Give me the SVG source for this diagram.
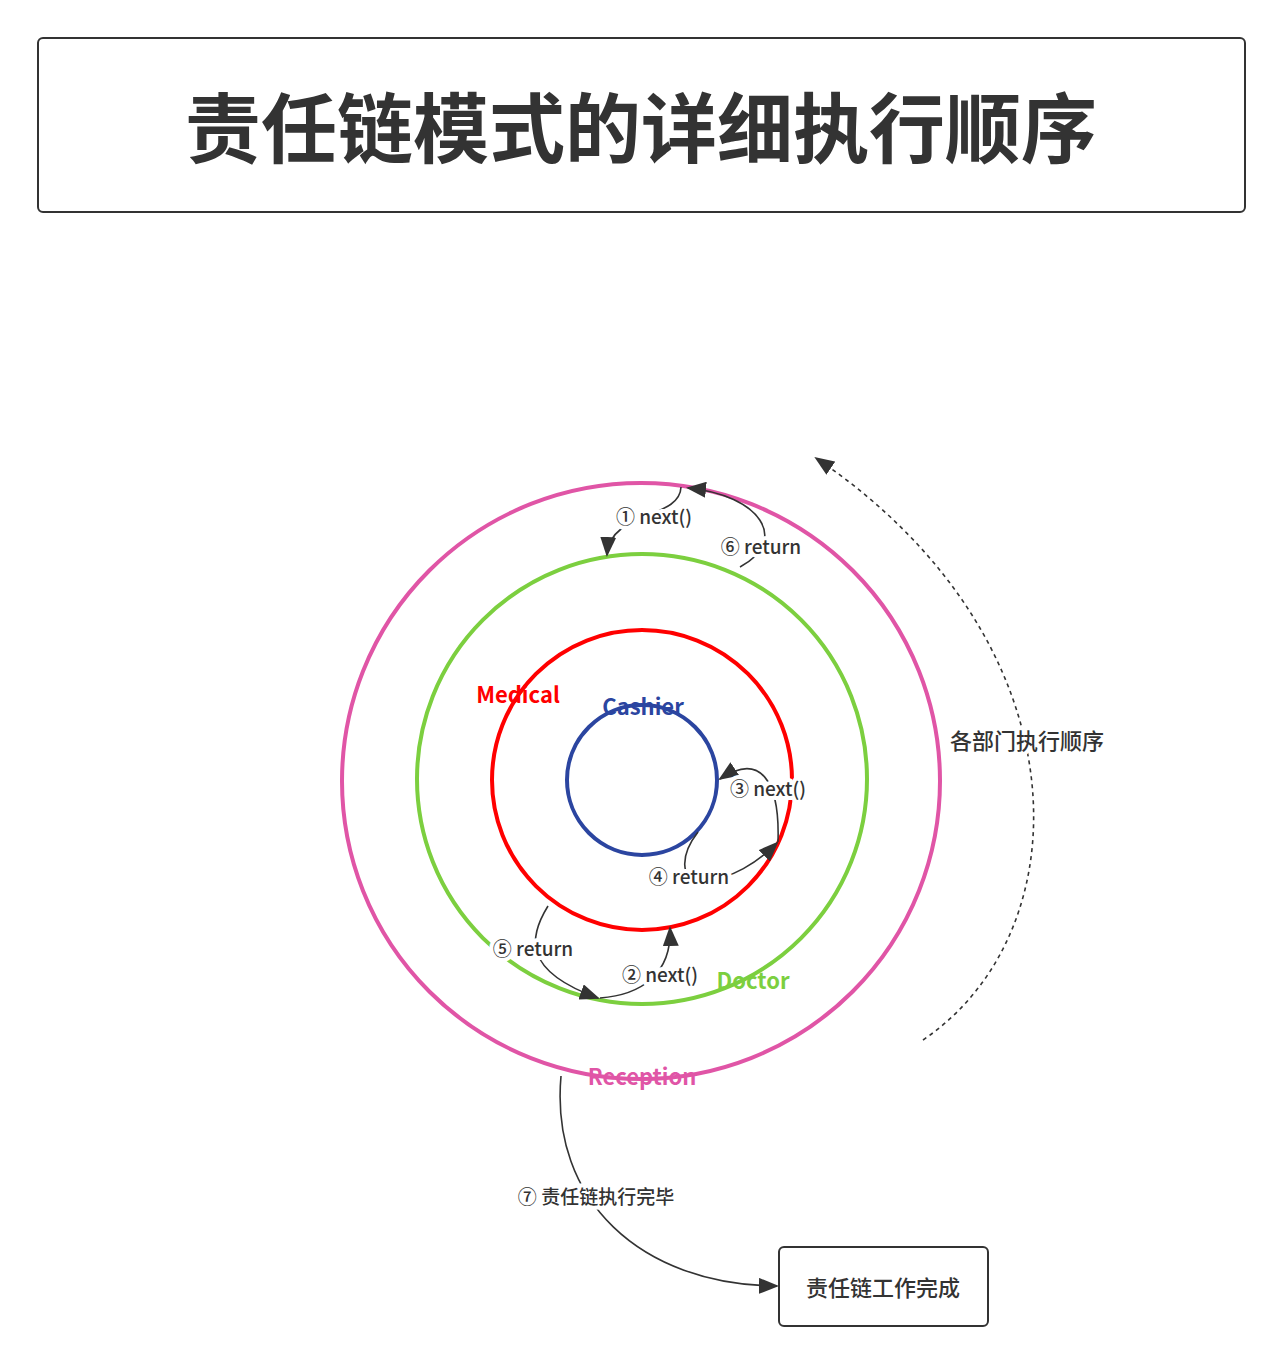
<svg xmlns="http://www.w3.org/2000/svg" width="1282" height="1363" viewBox="0 0 1282 1363">
<style>
.t{font-family:"Noto Sans CJK SC","Noto Sans",sans-serif;fill:#333}
.lbl{font-family:"Noto Sans CJK SC","Noto Sans",sans-serif;fill:#333;font-size:19px;font-weight:500;text-anchor:middle;paint-order:stroke;stroke:#fff;stroke-width:8px;stroke-linejoin:round}
.big{font-size:22px}
.ring{fill:none;stroke-width:4}
.rn{font-family:"Noto Sans CJK SC","Noto Sans",sans-serif;font-size:22px;font-weight:700;text-anchor:middle}
.c{fill:none;stroke:#333;stroke-width:1.6;marker-end:url(#ah)}
</style>
<defs>
<marker id="ah" markerUnits="userSpaceOnUse" markerWidth="20" markerHeight="16" refX="18" refY="8" orient="auto">
<path d="M0,0 L20,8 L0,16 z" fill="#333"/>
</marker>
</defs>
<rect width="1282" height="1363" fill="#fff"/>
<g id="title">
<rect x="38" y="38" width="1207" height="174" rx="5" fill="#fff" stroke="#333" stroke-width="2"/>
<text class="t" x="641" y="157" font-size="76" font-weight="700" text-anchor="middle">责任链模式的详细执行顺序</text>
</g>
<g id="reception"><ellipse class="ring" cx="641" cy="781" rx="299" ry="298" stroke="#e055a6"/></g>
<g id="doctor"><ellipse class="ring" cx="642" cy="779" rx="225" ry="225" stroke="#7ccf3f"/></g>
<g id="medical"><ellipse class="ring" cx="642" cy="780" rx="150" ry="150" stroke="#f00"/></g>
<g id="cashier"><ellipse class="ring" cx="642" cy="780" rx="75" ry="75" stroke="#2b45a0"/></g>
<g id="done">
<rect x="779" y="1247" width="209" height="79" rx="5" fill="#fff" stroke="#333" stroke-width="2"/>
<text class="t" x="883" y="1296" font-size="22" font-weight="500" text-anchor="middle">责任链工作完成</text>
</g>
<g id="connectors">
<path class="c" d="M681,487 C680,520 610,510 607,555"/>
<path class="c" d="M740,567 C790,540 760,495 688,488"/>
<path class="c" d="M778,842 C780,780 760,752 720,779"/>
<path class="c" d="M698,832 C680,855 680,880 700,880 C730,882 760,860 777,843"/>
<path class="c" d="M600,998 C640,995 672,975 670,928"/>
<path class="c" d="M548,906 C530,935 520,970 598,998"/>
<path class="c" d="M561,1076 C550,1200 640,1285 777,1286"/>
<path class="c" d="M923,1040 C1085,930 1085,640 816,458" stroke-dasharray="4,4" stroke-width="1.6"/>
</g>
<g id="labels">
<text class="lbl" x="654" y="524">① next()</text>
<text class="lbl" x="761" y="554">⑥ return</text>
<text class="lbl" x="768" y="796">③ next()</text>
<text class="lbl" x="689" y="884">④ return</text>
<text class="lbl" x="660" y="982">② next()</text>
<text class="lbl" x="533" y="956">⑤ return</text>
<text class="lbl" x="596" y="1204">⑦ 责任链执行完毕</text>
<text class="lbl big" x="1027" y="749">各部门执行顺序</text>
</g>
<g id="ringlabels">
<text class="rn" x="518" y="703" fill="#f00">Medical</text>
<text class="rn" x="643" y="715" fill="#2b45a0">Cashier</text>
<text class="rn" x="753" y="989" fill="#7ccf3f">Doctor</text>
<text class="rn" x="642" y="1085" fill="#e055a6">Reception</text>
</g>
</svg>
